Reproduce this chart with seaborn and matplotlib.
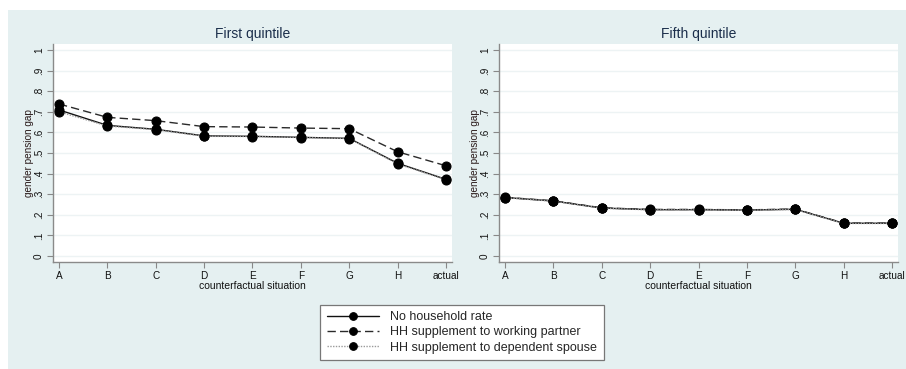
import matplotlib
matplotlib.use("Agg")
import matplotlib.pyplot as plt
from matplotlib.patches import Rectangle
import seaborn as sns
import pandas as pd

# Counterfactual situations on the x axis
situations = ["A", "B", "C", "D", "E", "F", "G", "H", "actual"]
y_ticks = [0, 0.1, 0.2, 0.3, 0.4, 0.5, 0.6, 0.7, 0.8, 0.9, 1.0]
y_tick_labels = ["0", ".1", ".2", ".3", ".4", ".5", ".6", ".7", ".8", ".9", "1"]

series_names = [
    "No household rate",
    "HH supplement to working partner",
    "HH supplement to dependent spouse",
]

# Gender pension gap, first quintile
q1_no_household = [0.709, 0.634, 0.615, 0.583, 0.581, 0.576, 0.571, 0.450, 0.372]
q1_working_partner = [0.738, 0.673, 0.657, 0.628, 0.626, 0.621, 0.618, 0.506, 0.438]
q1_dependent_spouse = [0.700, 0.631, 0.613, 0.581, 0.580, 0.575, 0.570, 0.447, 0.370]

# Gender pension gap, fifth quintile
q5_no_household = [0.284, 0.267, 0.233, 0.225, 0.225, 0.223, 0.227, 0.159, 0.159]
q5_working_partner = [0.285, 0.268, 0.234, 0.226, 0.226, 0.224, 0.228, 0.160, 0.160]
q5_dependent_spouse = [0.283, 0.266, 0.232, 0.224, 0.224, 0.222, 0.226, 0.158, 0.158]

panels = [
    ("First quintile", [q1_no_household, q1_working_partner, q1_dependent_spouse]),
    ("Fifth quintile", [q5_no_household, q5_working_partner, q5_dependent_spouse]),
]

styles = {
    series_names[0]: dict(color="#111111", linestyle="-", linewidth=1.0),
    series_names[1]: dict(color="#2a2a2a", linestyle=(0, (6, 3)), linewidth=1.0),
    series_names[2]: dict(color="#9a9a9a", linestyle=(0, (1, 1)), linewidth=1.0),
}

bg = "#e5f0f1"
sns.set_theme(style="white")
plt.rcParams["font.family"] = ["Liberation Sans", "DejaVu Sans"]

fig = plt.figure(figsize=(9.06, 3.69), dpi=100)
fig.patch.set_facecolor("white")
fig.patches.append(Rectangle((8 / 906, 0), 1 - 8 / 906, (369 - 10) / 369,
                             transform=fig.transFigure, facecolor=bg,
                             edgecolor="none", zorder=-10))

axes_pos = [
    [53 / 906, (369 - 262) / 369, 399 / 906, 218 / 369],
    [499 / 906, (369 - 262) / 369, 399 / 906, 218 / 369],
]

handles = None
for pos, (title, values) in zip(axes_pos, panels):
    ax = fig.add_axes(pos)
    ax.set_facecolor("white")
    rows = []
    for name, vals in zip(series_names, values):
        for i, v in enumerate(vals):
            rows.append({"pos": i, "gap": v, "series": name})
    df = pd.DataFrame(rows)
    for name in series_names:
        sub = df[df["series"] == name]
        sns.lineplot(data=sub, x="pos", y="gap", ax=ax, marker="o",
                     markersize=6.5, markerfacecolor="black",
                     markeredgecolor="black", label=name, zorder=3,
                     **styles[name])
    for t in y_ticks:
        ax.axhline(t, color="#edf3f4", linewidth=1.0, zorder=1)
    ax.set_xlim(-0.124, 8.124)
    ax.set_ylim(-0.029, 1.029)
    ax.set_xticks(range(len(situations)))
    ax.set_xticklabels(situations, fontsize=7.2, color="#111111")
    ax.set_yticks(y_ticks)
    ax.set_yticklabels(y_tick_labels, fontsize=7.2, color="#111111",
                       rotation=90, va="center")
    ax.tick_params(axis="both", which="both", direction="out", length=4,
                   width=0.8, color="#888888", pad=2.5, left=True, bottom=True)
    for side in ["top", "right"]:
        ax.spines[side].set_visible(False)
    for side in ["left", "bottom"]:
        ax.spines[side].set_color("#8a8a8a")
        ax.spines[side].set_linewidth(1.0)
    ax.set_xlabel("counterfactual situation", fontsize=7.5, color="#111111",
                  labelpad=0)
    ax.set_ylabel("gender pension gap", fontsize=7.2, color="#2a1a1a",
                  labelpad=0)
    ax.set_title(title, fontsize=10, color="#1b2e4b", pad=4)
    handles, labels = ax.get_legend_handles_labels()
    ax.get_legend().remove()

leg = fig.legend(handles, series_names, loc="center",
                 bbox_to_anchor=(462 / 906, (369 - 332.5) / 369),
                 fontsize=9, frameon=True, fancybox=False, framealpha=1,
                 handlelength=4.2, handletextpad=0.9, borderpad=0.5,
                 labelspacing=0.25, markerscale=0.85)
leg.get_frame().set_edgecolor("#777777")
leg.get_frame().set_linewidth(0.9)
leg.get_frame().set_facecolor("white")

fig.savefig("out.png", dpi=100, facecolor=fig.get_facecolor())
